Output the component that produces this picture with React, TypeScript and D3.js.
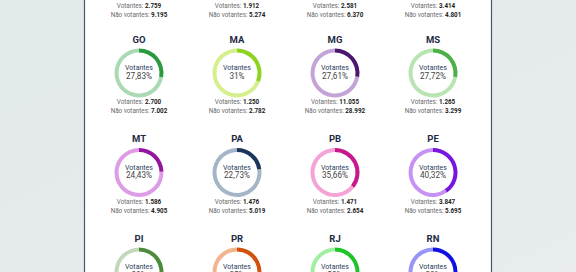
import React from "react";
import * as d3 from "d3";

// partial row at the very top (only the counts are visible)
const topVotantes = [2759, 1912, 2581, 3414];
const topNaoVotantes = [9195, 5274, 6370, 4801];

const states = ["GO", "MA", "MG", "MS", "MT", "PA", "PB", "PE", "PI", "PR", "RJ", "RN"];
const percents = [27.83, 31, 27.61, 27.72, 24.43, 22.73, 35.66, 40.32, 30, 35, 28, 38];
const votantes = [2700, 1250, 11055, 1265, 1586, 1476, 1471, 3847];
const naoVotantes = [7002, 2782, 28992, 3299, 4905, 5019, 2654, 5695];

const lightColors = ["#a9dab3", "#d5ef8c", "#c4a3d6", "#b7e4b1", "#de9be6", "#a5b5c8", "#f3a3d6", "#c792f3", "#c3d8bb", "#f2b48e", "#9ef0a0", "#9796f6"];
const darkColors = ["#2a9a40", "#8ed320", "#4b1670", "#4daf47", "#9414a0", "#1a365c", "#c9178c", "#7716e0", "#4d8a3b", "#d2520d", "#1ec427", "#1111e3"];

const W = 576;
const H = 272;
const colX = d3.scaleLinear().domain([0, 3]).range([139, 433]);
const rowY = d3.scaleLinear().domain([0, 2]).range([39, 238]);

const fmtInt = (v: number) => d3.format(",")(v).replace(/,/g, ".");
const fmtPct = (v: number) => d3.format("~r")(v).replace(".", ",") + "%";

const arc = d3.arc<any>().innerRadius(20.5).outerRadius(24.5);
const pie = d3.pie<number>().sort(null).value(d => d);

const font = "Roboto, 'Noto Sans', sans-serif";

function Counts({ x, y, v, n }: { x: number; y: number; v: number; n: number }) {
  return (
    <g fontFamily={font} fontSize={6.3} textAnchor="middle" fill="#6a6a6a">
      <text x={x} y={y}>
        Votantes: <tspan fontWeight="bold" fill="#222">{fmtInt(v)}</tspan>
      </text>
      <text x={x} y={y + 9}>
        Não votantes: <tspan fontWeight="bold" fill="#222">{fmtInt(n)}</tspan>
      </text>
    </g>
  );
}

export default function App() {
  return (
    <div style={{ position: "fixed", left: 0, top: 0 }}>
      <svg width={W} height={H} style={{ display: "block" }}>
        <defs>
          <linearGradient id="bg" x1="0" x2="1" y1="0" y2="1">
            <stop offset="0" stopColor="#e2e9eb" />
            <stop offset="1" stopColor="#e8ecee" />
          </linearGradient>
        </defs>
        <rect width={W} height={H} fill="url(#bg)" />
        <rect x={84.5} y={-5} width={407} height={H + 10} fill="#fff" stroke="#4d5568" strokeWidth={1.2} />

        {topVotantes.map((v, i) => (
          <Counts key={"t" + i} x={colX(i)} y={7.5} v={v} n={topNaoVotantes[i]} />
        ))}

        {states.map((s, i) => {
          const cx = colX(i % 4);
          const ty = rowY(Math.floor(i / 4));
          const cy = ty + 34;
          const slices = pie([percents[i], 100 - percents[i]]);
          return (
            <g key={s}>
              <text x={cx} y={ty + 3.5} textAnchor="middle" fontFamily={font} fontWeight="bold" fontSize={9.5} fill="#1d2b45">
                {s}
              </text>
              <g transform={`translate(${cx},${cy})`}>
                <path d={arc(slices[1]) || ""} fill={lightColors[i]} />
                <path d={arc(slices[0]) || ""} fill={darkColors[i]} />
                <text y={-3} textAnchor="middle" fontFamily={font} fontSize={7} fill="#2b3d5c">
                  Votantes
                </text>
                <text y={5.5} textAnchor="middle" fontFamily={font} fontSize={8.2} fill="#444">
                  {fmtPct(percents[i])}
                </text>
              </g>
              {votantes[i] !== undefined && (
                <Counts x={cx} y={ty + 65} v={votantes[i]} n={naoVotantes[i]} />
              )}
            </g>
          );
        })}
      </svg>
    </div>
  );
}
